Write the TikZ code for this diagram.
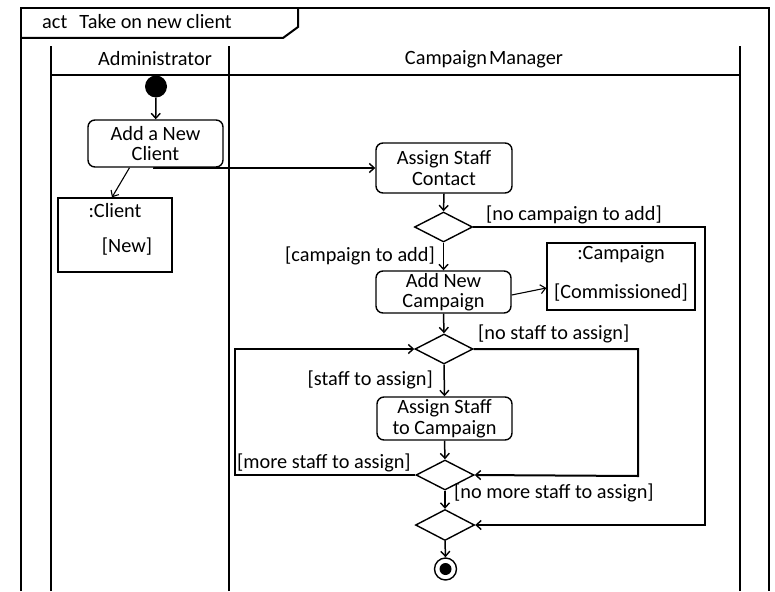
\documentclass[tikz,border=0pt]{standalone}
\usepackage{fontspec}
\setmainfont{Carlito}
\usetikzlibrary{arrows.meta,shapes.geometric}
\begin{document}
\begin{tikzpicture}[x=1pt,y=-1pt,
  every node/.style={font=\fontsize{20.3}{21}\selectfont},
  heavy/.style={line width=2pt},
  action/.style={draw,rounded corners=7pt,line width=1.4pt,inner sep=0pt,align=center,font=\fontsize{20.3}{20.5}\selectfont},
  objbox/.style={draw,rectangle,line width=1.4pt,inner sep=0pt},
  decision/.style={draw,diamond,line width=1.4pt,inner sep=0pt,minimum width=58pt,minimum height=30pt},
  flow/.style={line width=1.5pt,-{Straight Barb[length=5pt,width=9pt,line width=1.4pt]}},
  thinflow/.style={line width=1.1pt,-{Straight Barb[length=5pt,width=9pt,line width=1.1pt]}},
  loopflow/.style={line width=2pt,-{Straight Barb[length=5pt,width=9pt,line width=1.4pt]}},
  guard/.style={inner sep=0pt}
]
\useasboundingbox (0,0) rectangle (775,591);
% frame
\draw[heavy] (21,591) -- (21,8) -- (769,8) -- (769,591);
\draw[heavy] (21,38) -- (283,38) -- (298,27) -- (298,8);
\node[guard,anchor=west] (title) at (42,22) {act\hspace{0.6em}Take on new client};
% swimlanes
\draw[heavy] (51,591) -- (51,46);
\draw[heavy] (229,591) -- (229,46);
\draw[heavy] (740,591) -- (740,46);
\draw[heavy] (51,75) -- (740,75);
\node[guard] (lane1) at (155,59) {Administrator};
\node[guard] (lane2) at (484,59) {Campaign\hspace{0.1em}Manager};
% nodes
\node[circle,fill=black,minimum size=22pt,inner sep=0pt] (start) at (156,86.5) {};
\node[action,minimum width=135pt,minimum height=47pt] (addclient) at (155.5,143.5) {Add a New\\Client};
\node[objbox,minimum width=114pt,minimum height=74pt] (client) at (115,235) {};
\node[guard] (clientname) at (115,211) {:Client};
\node[guard] (clientstate) at (127,247) {[New]};
\node[action,minimum width=136pt,minimum height=50pt] (contact) at (444,168) {Assign Staff\\Contact};
\node[decision] (d1) at (443.5,227) {};
\node[action,minimum width=135pt,minimum height=42pt] (addcamp) at (443.5,292) {Add New\\Campaign};
\node[objbox,minimum width=148pt,minimum height=67pt] (campaign) at (621,276.5) {};
\node[guard] (campname) at (621,254) {:Campaign};
\node[guard] (campstate) at (621,293) {[Commissioned]};
\node[decision] (d2) at (444,349) {};
\node[action,minimum width=135pt,minimum height=43pt] (assigncamp) at (444.5,418.5) {Assign Staff\\to Campaign};
\node[decision] (d3) at (445,475) {};
\node[decision,minimum width=59pt,minimum height=31pt] (d4) at (445,525) {};
\node[circle,draw,line width=1.4pt,minimum size=22pt,inner sep=0pt] (final) at (445.5,569) {};
\node[circle,fill=black,minimum size=12pt,inner sep=0pt] (finaldot) at (final.center) {};
% connectors
\draw[flow] (start) -- (addclient);
\draw[thinflow] ([xshift=-26pt]addclient.south) -- ([xshift=-3pt]client.north);
\draw[flow] ([xshift=-2pt]addclient.south) |- (contact.west);
\draw[flow] (contact.south) -- (d1.north);
\draw[flow] (d1.south) -- (addcamp.north);
\draw[thinflow] ([yshift=-3pt]addcamp.east) -- ([yshift=-11.5pt]campaign.west);
\draw[flow] (addcamp.south) -- (d2.north);
\draw[flow] (d2.south) -- (assigncamp.north);
\draw[flow] (assigncamp.south) -- (d3.north);
\draw[flow] (d3.south) -- (d4.north);
\draw[flow] (d4.south) -- (final.north);
\draw[loopflow] (d1.east) -- (705,227) -- (705,525) -- (d4.east);
\draw[loopflow] (d2.east) -- (638,349) -- (638,476) -- (d3.east);
\draw[loopflow] (d3.west) -- (235,475) -- (235,349) -- (d2.west);
% guards
\node[guard,anchor=west] (g1) at (486,215) {[no campaign to add]};
\node[guard,anchor=east] (g2) at (435,256) {[campaign to add]};
\node[guard,anchor=west] (g3) at (478,334) {[no staff to assign]};
\node[guard,anchor=east] (g4) at (433,380) {[staff to assign]};
\node[guard,anchor=west] (g5) at (237,463) {[more staff to assign]};
\node[guard,anchor=west] (g6) at (454,493) {[no more staff to assign]};
\end{tikzpicture}
\end{document}
